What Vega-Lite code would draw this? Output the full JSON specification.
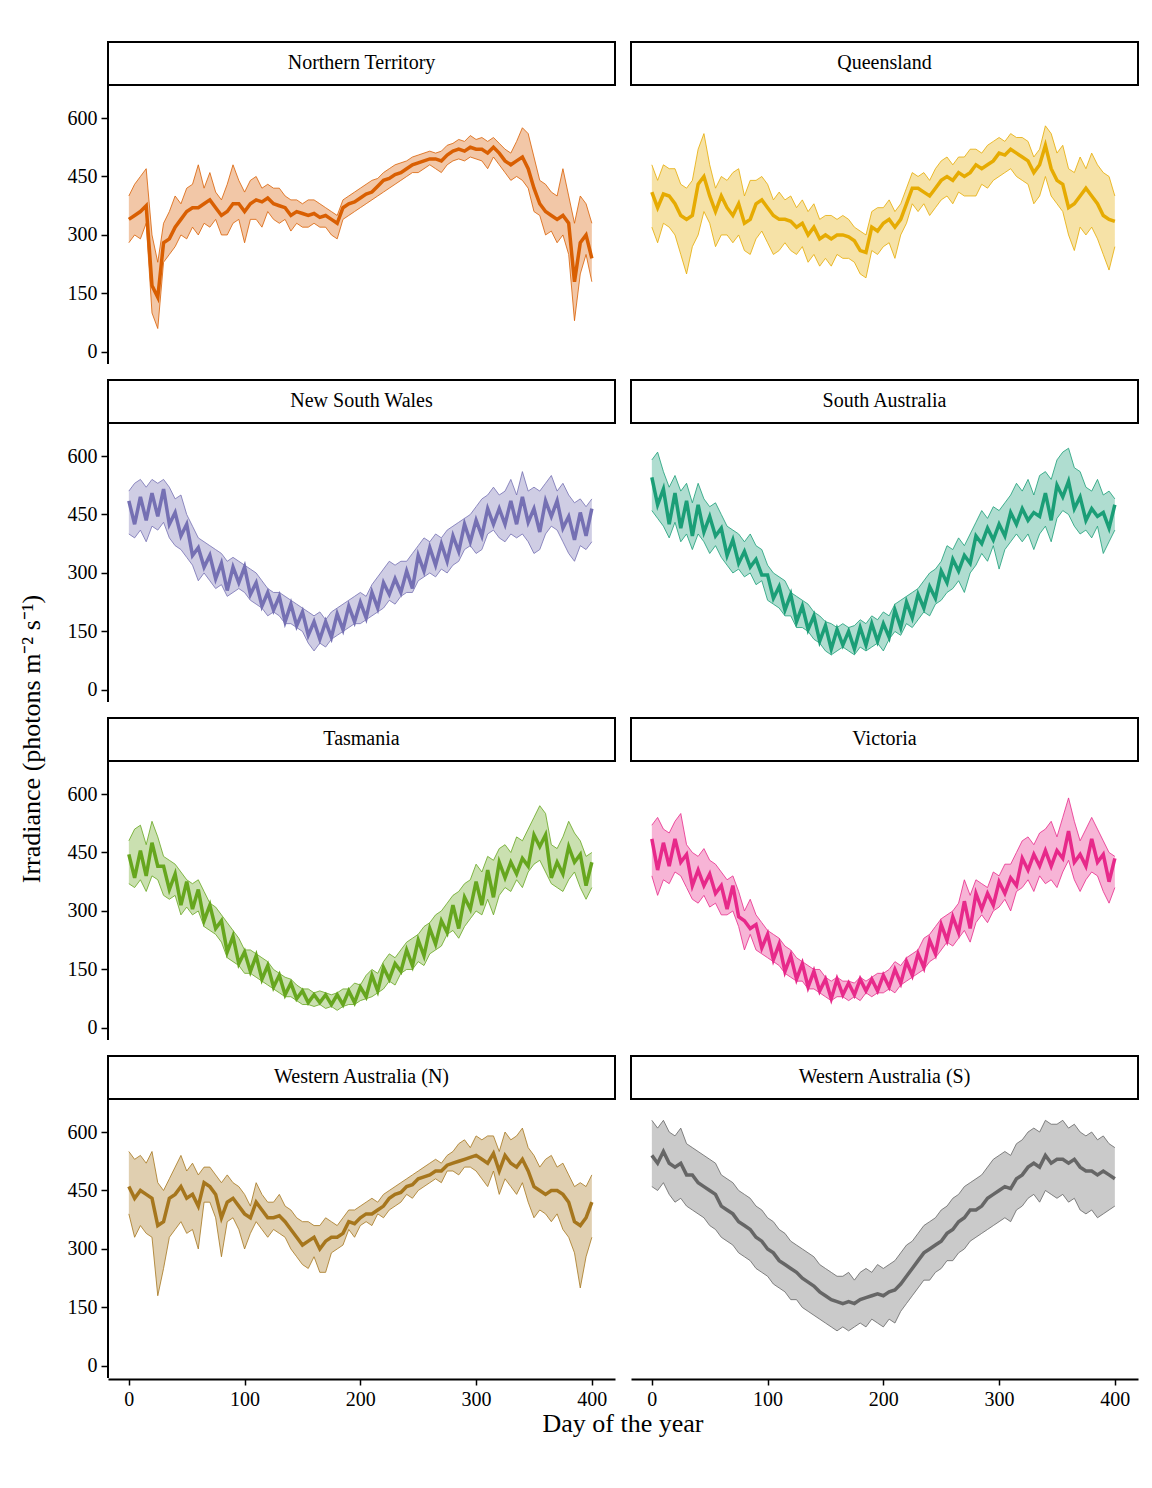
{
  "$schema": "https://vega.github.io/schema/vega-lite/v6.json",
  "background": "white",
  "padding": {"left": 18, "top": 41, "right": 10, "bottom": 10},
  "title": {
    "text": "Irradiance (photons m⁻² s⁻¹)",
    "orient": "left",
    "anchor": "middle",
    "font": "Liberation Serif",
    "fontSize": 26,
    "fontWeight": "normal",
    "color": "black",
    "offset": 22
  },
  "config": {
    "view": {"stroke": null},
    "font": "Liberation Serif",
    "header": {"labels": false, "labelFontSize": 0, "labelPadding": 0, "labelExpr": "''"},
    "axis": {
      "grid": false,
      "labelFont": "Liberation Serif",
      "labelFontSize": 20,
      "labelColor": "black",
      "tickColor": "black",
      "tickWidth": 1.5,
      "tickSize": 6,
      "domainColor": "black",
      "domainWidth": 2,
      "labelPadding": 4
    }
  },
  "datasets": {
    "names": [
      {"r": "NT", "region": "Northern Territory"},
      {"r": "QLD", "region": "Queensland"},
      {"r": "NSW", "region": "New South Wales"},
      {"r": "SA", "region": "South Australia"},
      {"r": "TAS", "region": "Tasmania"},
      {"r": "VIC", "region": "Victoria"},
      {"r": "WAN", "region": "Western Australia (N)"},
      {"r": "WAS", "region": "Western Australia (S)"}
    ]
  },
  "data": {
    "values": [
      {"r":"NT","d":0,"lo":280,"m":340,"hi":400},{"r":"NT","d":5,"lo":300,"m":350,"hi":430},{"r":"NT","d":10,"lo":290,"m":360,"hi":450},{"r":"NT","d":15,"lo":330,"m":375,"hi":470},{"r":"NT","d":20,"lo":100,"m":170,"hi":300},{"r":"NT","d":25,"lo":60,"m":140,"hi":230},{"r":"NT","d":30,"lo":230,"m":280,"hi":330},{"r":"NT","d":35,"lo":250,"m":290,"hi":360},{"r":"NT","d":40,"lo":270,"m":320,"hi":400},{"r":"NT","d":45,"lo":300,"m":340,"hi":380},
      {"r":"NT","d":50,"lo":290,"m":360,"hi":420},{"r":"NT","d":55,"lo":320,"m":370,"hi":430},{"r":"NT","d":60,"lo":300,"m":370,"hi":480},{"r":"NT","d":65,"lo":330,"m":380,"hi":420},{"r":"NT","d":70,"lo":320,"m":390,"hi":460},{"r":"NT","d":75,"lo":340,"m":370,"hi":410},{"r":"NT","d":80,"lo":300,"m":350,"hi":390},{"r":"NT","d":85,"lo":300,"m":360,"hi":430},{"r":"NT","d":90,"lo":330,"m":380,"hi":480},{"r":"NT","d":95,"lo":340,"m":380,"hi":440},
      {"r":"NT","d":100,"lo":280,"m":360,"hi":410},{"r":"NT","d":105,"lo":340,"m":380,"hi":440},{"r":"NT","d":110,"lo":340,"m":390,"hi":450},{"r":"NT","d":115,"lo":320,"m":385,"hi":420},{"r":"NT","d":120,"lo":360,"m":395,"hi":430},{"r":"NT","d":125,"lo":340,"m":380,"hi":420},{"r":"NT","d":130,"lo":330,"m":375,"hi":420},{"r":"NT","d":135,"lo":340,"m":370,"hi":400},{"r":"NT","d":140,"lo":310,"m":350,"hi":390},{"r":"NT","d":145,"lo":330,"m":360,"hi":390},
      {"r":"NT","d":150,"lo":320,"m":355,"hi":380},{"r":"NT","d":155,"lo":320,"m":350,"hi":390},{"r":"NT","d":160,"lo":330,"m":355,"hi":390},{"r":"NT","d":165,"lo":320,"m":345,"hi":380},{"r":"NT","d":170,"lo":320,"m":350,"hi":370},{"r":"NT","d":175,"lo":300,"m":340,"hi":360},{"r":"NT","d":180,"lo":290,"m":330,"hi":350},{"r":"NT","d":185,"lo":340,"m":370,"hi":390},{"r":"NT","d":190,"lo":350,"m":380,"hi":400},{"r":"NT","d":195,"lo":360,"m":385,"hi":410},
      {"r":"NT","d":200,"lo":370,"m":395,"hi":420},{"r":"NT","d":205,"lo":380,"m":405,"hi":430},{"r":"NT","d":210,"lo":390,"m":410,"hi":440},{"r":"NT","d":215,"lo":400,"m":425,"hi":445},{"r":"NT","d":220,"lo":410,"m":440,"hi":460},{"r":"NT","d":225,"lo":420,"m":445,"hi":470},{"r":"NT","d":230,"lo":430,"m":455,"hi":480},{"r":"NT","d":235,"lo":440,"m":460,"hi":485},{"r":"NT","d":240,"lo":450,"m":470,"hi":490},{"r":"NT","d":245,"lo":460,"m":480,"hi":500},
      {"r":"NT","d":250,"lo":460,"m":485,"hi":505},{"r":"NT","d":255,"lo":470,"m":490,"hi":510},{"r":"NT","d":260,"lo":480,"m":495,"hi":515},{"r":"NT","d":265,"lo":470,"m":495,"hi":510},{"r":"NT","d":270,"lo":460,"m":490,"hi":515},{"r":"NT","d":275,"lo":480,"m":505,"hi":530},{"r":"NT","d":280,"lo":490,"m":515,"hi":535},{"r":"NT","d":285,"lo":495,"m":520,"hi":545},{"r":"NT","d":290,"lo":490,"m":515,"hi":540},{"r":"NT","d":295,"lo":500,"m":525,"hi":555},
      {"r":"NT","d":300,"lo":495,"m":520,"hi":545},{"r":"NT","d":305,"lo":490,"m":520,"hi":550},{"r":"NT","d":310,"lo":470,"m":510,"hi":540},{"r":"NT","d":315,"lo":500,"m":525,"hi":550},{"r":"NT","d":320,"lo":480,"m":510,"hi":535},{"r":"NT","d":325,"lo":460,"m":490,"hi":520},{"r":"NT","d":330,"lo":440,"m":480,"hi":510},{"r":"NT","d":335,"lo":450,"m":490,"hi":540},{"r":"NT","d":340,"lo":440,"m":500,"hi":575},{"r":"NT","d":345,"lo":420,"m":470,"hi":560},
      {"r":"NT","d":350,"lo":360,"m":420,"hi":500},{"r":"NT","d":355,"lo":350,"m":380,"hi":440},{"r":"NT","d":360,"lo":300,"m":360,"hi":430},{"r":"NT","d":365,"lo":310,"m":350,"hi":410},{"r":"NT","d":370,"lo":280,"m":340,"hi":400},{"r":"NT","d":375,"lo":300,"m":350,"hi":470},{"r":"NT","d":380,"lo":250,"m":330,"hi":400},{"r":"NT","d":385,"lo":80,"m":180,"hi":330},{"r":"NT","d":390,"lo":200,"m":280,"hi":400},{"r":"NT","d":395,"lo":250,"m":300,"hi":380},{"r":"NT","d":400,"lo":180,"m":240,"hi":330},

      {"r":"QLD","d":0,"lo":320,"m":410,"hi":480},{"r":"QLD","d":5,"lo":280,"m":370,"hi":440},{"r":"QLD","d":10,"lo":330,"m":405,"hi":480},{"r":"QLD","d":15,"lo":320,"m":400,"hi":470},{"r":"QLD","d":20,"lo":300,"m":380,"hi":470},{"r":"QLD","d":25,"lo":250,"m":350,"hi":430},{"r":"QLD","d":30,"lo":200,"m":340,"hi":420},{"r":"QLD","d":35,"lo":270,"m":350,"hi":440},{"r":"QLD","d":40,"lo":300,"m":430,"hi":520},{"r":"QLD","d":45,"lo":360,"m":450,"hi":560},
      {"r":"QLD","d":50,"lo":330,"m":400,"hi":480},{"r":"QLD","d":55,"lo":270,"m":360,"hi":420},{"r":"QLD","d":60,"lo":300,"m":400,"hi":450},{"r":"QLD","d":65,"lo":300,"m":370,"hi":440},{"r":"QLD","d":70,"lo":280,"m":350,"hi":460},{"r":"QLD","d":75,"lo":300,"m":380,"hi":470},{"r":"QLD","d":80,"lo":260,"m":330,"hi":400},{"r":"QLD","d":85,"lo":250,"m":340,"hi":440},{"r":"QLD","d":90,"lo":290,"m":380,"hi":440},{"r":"QLD","d":95,"lo":310,"m":390,"hi":450},
      {"r":"QLD","d":100,"lo":280,"m":370,"hi":430},{"r":"QLD","d":105,"lo":250,"m":350,"hi":390},{"r":"QLD","d":110,"lo":260,"m":340,"hi":410},{"r":"QLD","d":115,"lo":280,"m":340,"hi":390},{"r":"QLD","d":120,"lo":260,"m":335,"hi":400},{"r":"QLD","d":125,"lo":250,"m":320,"hi":370},{"r":"QLD","d":130,"lo":270,"m":330,"hi":390},{"r":"QLD","d":135,"lo":230,"m":300,"hi":360},{"r":"QLD","d":140,"lo":250,"m":320,"hi":380},{"r":"QLD","d":145,"lo":220,"m":290,"hi":340},
      {"r":"QLD","d":150,"lo":240,"m":300,"hi":350},{"r":"QLD","d":155,"lo":220,"m":290,"hi":350},{"r":"QLD","d":160,"lo":250,"m":300,"hi":340},{"r":"QLD","d":165,"lo":240,"m":300,"hi":350},{"r":"QLD","d":170,"lo":240,"m":295,"hi":340},{"r":"QLD","d":175,"lo":230,"m":285,"hi":320},{"r":"QLD","d":180,"lo":200,"m":260,"hi":310},{"r":"QLD","d":185,"lo":190,"m":255,"hi":300},{"r":"QLD","d":190,"lo":260,"m":320,"hi":360},{"r":"QLD","d":195,"lo":250,"m":310,"hi":370},
      {"r":"QLD","d":200,"lo":270,"m":330,"hi":370},{"r":"QLD","d":205,"lo":280,"m":340,"hi":390},{"r":"QLD","d":210,"lo":240,"m":320,"hi":360},{"r":"QLD","d":215,"lo":300,"m":340,"hi":380},{"r":"QLD","d":220,"lo":330,"m":380,"hi":420},{"r":"QLD","d":225,"lo":380,"m":420,"hi":460},{"r":"QLD","d":230,"lo":360,"m":420,"hi":450},{"r":"QLD","d":235,"lo":380,"m":410,"hi":460},{"r":"QLD","d":240,"lo":350,"m":400,"hi":440},{"r":"QLD","d":245,"lo":370,"m":420,"hi":470},
      {"r":"QLD","d":250,"lo":390,"m":440,"hi":490},{"r":"QLD","d":255,"lo":400,"m":450,"hi":500},{"r":"QLD","d":260,"lo":380,"m":440,"hi":480},{"r":"QLD","d":265,"lo":410,"m":460,"hi":500},{"r":"QLD","d":270,"lo":400,"m":450,"hi":500},{"r":"QLD","d":275,"lo":400,"m":460,"hi":520},{"r":"QLD","d":280,"lo":400,"m":480,"hi":520},{"r":"QLD","d":285,"lo":430,"m":470,"hi":510},{"r":"QLD","d":290,"lo":420,"m":480,"hi":530},{"r":"QLD","d":295,"lo":440,"m":490,"hi":540},
      {"r":"QLD","d":300,"lo":450,"m":510,"hi":550},{"r":"QLD","d":305,"lo":460,"m":505,"hi":540},{"r":"QLD","d":310,"lo":470,"m":520,"hi":560},{"r":"QLD","d":315,"lo":450,"m":510,"hi":550},{"r":"QLD","d":320,"lo":440,"m":500,"hi":550},{"r":"QLD","d":325,"lo":430,"m":490,"hi":540},{"r":"QLD","d":330,"lo":380,"m":460,"hi":500},{"r":"QLD","d":335,"lo":400,"m":480,"hi":520},{"r":"QLD","d":340,"lo":450,"m":530,"hi":580},{"r":"QLD","d":345,"lo":400,"m":470,"hi":560},
      {"r":"QLD","d":350,"lo":380,"m":440,"hi":510},{"r":"QLD","d":355,"lo":360,"m":430,"hi":530},{"r":"QLD","d":360,"lo":300,"m":370,"hi":470},{"r":"QLD","d":365,"lo":260,"m":380,"hi":460},{"r":"QLD","d":370,"lo":320,"m":400,"hi":500},{"r":"QLD","d":375,"lo":300,"m":420,"hi":470},{"r":"QLD","d":380,"lo":320,"m":400,"hi":510},{"r":"QLD","d":385,"lo":290,"m":380,"hi":480},{"r":"QLD","d":390,"lo":250,"m":350,"hi":460},{"r":"QLD","d":395,"lo":210,"m":340,"hi":450},{"r":"QLD","d":400,"lo":270,"m":335,"hi":400},

      {"r":"NSW","d":0,"lo":400,"m":485,"hi":510},{"r":"NSW","d":5,"lo":390,"m":425,"hi":530},{"r":"NSW","d":10,"lo":410,"m":495,"hi":540},{"r":"NSW","d":15,"lo":380,"m":435,"hi":520},{"r":"NSW","d":20,"lo":420,"m":505,"hi":540},{"r":"NSW","d":25,"lo":410,"m":445,"hi":530},{"r":"NSW","d":30,"lo":430,"m":515,"hi":540},{"r":"NSW","d":35,"lo":390,"m":425,"hi":520},{"r":"NSW","d":40,"lo":370,"m":455,"hi":490},{"r":"NSW","d":45,"lo":360,"m":395,"hi":500},
      {"r":"NSW","d":50,"lo":340,"m":425,"hi":450},{"r":"NSW","d":55,"lo":320,"m":345,"hi":420},{"r":"NSW","d":60,"lo":280,"m":365,"hi":390},{"r":"NSW","d":65,"lo":300,"m":315,"hi":380},{"r":"NSW","d":70,"lo":280,"m":345,"hi":370},{"r":"NSW","d":75,"lo":260,"m":285,"hi":360},{"r":"NSW","d":80,"lo":270,"m":325,"hi":350},{"r":"NSW","d":85,"lo":240,"m":255,"hi":330},{"r":"NSW","d":90,"lo":250,"m":315,"hi":340},{"r":"NSW","d":95,"lo":260,"m":275,"hi":330},
      {"r":"NSW","d":100,"lo":250,"m":315,"hi":320},{"r":"NSW","d":105,"lo":230,"m":245,"hi":310},{"r":"NSW","d":110,"lo":220,"m":275,"hi":300},{"r":"NSW","d":115,"lo":210,"m":215,"hi":280},{"r":"NSW","d":120,"lo":190,"m":250,"hi":260},{"r":"NSW","d":125,"lo":200,"m":205,"hi":250},{"r":"NSW","d":130,"lo":190,"m":240,"hi":250},{"r":"NSW","d":135,"lo":170,"m":175,"hi":240},{"r":"NSW","d":140,"lo":170,"m":220,"hi":230},{"r":"NSW","d":145,"lo":160,"m":165,"hi":220},
      {"r":"NSW","d":150,"lo":150,"m":200,"hi":210},{"r":"NSW","d":155,"lo":120,"m":140,"hi":200},{"r":"NSW","d":160,"lo":100,"m":175,"hi":190},{"r":"NSW","d":165,"lo":120,"m":130,"hi":200},{"r":"NSW","d":170,"lo":110,"m":175,"hi":180},{"r":"NSW","d":175,"lo":130,"m":135,"hi":200},{"r":"NSW","d":180,"lo":140,"m":195,"hi":210},{"r":"NSW","d":185,"lo":150,"m":155,"hi":220},{"r":"NSW","d":190,"lo":160,"m":215,"hi":230},{"r":"NSW","d":195,"lo":170,"m":175,"hi":240},
      {"r":"NSW","d":200,"lo":170,"m":225,"hi":250},{"r":"NSW","d":205,"lo":180,"m":185,"hi":240},{"r":"NSW","d":210,"lo":190,"m":250,"hi":270},{"r":"NSW","d":215,"lo":200,"m":210,"hi":290},{"r":"NSW","d":220,"lo":210,"m":275,"hi":310},{"r":"NSW","d":225,"lo":230,"m":245,"hi":330},{"r":"NSW","d":230,"lo":220,"m":285,"hi":320},{"r":"NSW","d":235,"lo":240,"m":250,"hi":330},{"r":"NSW","d":240,"lo":250,"m":305,"hi":330},{"r":"NSW","d":245,"lo":250,"m":260,"hi":350},
      {"r":"NSW","d":250,"lo":280,"m":345,"hi":370},{"r":"NSW","d":255,"lo":290,"m":305,"hi":390},{"r":"NSW","d":260,"lo":300,"m":365,"hi":380},{"r":"NSW","d":265,"lo":290,"m":320,"hi":400},{"r":"NSW","d":270,"lo":310,"m":375,"hi":390},{"r":"NSW","d":275,"lo":300,"m":330,"hi":410},{"r":"NSW","d":280,"lo":320,"m":395,"hi":420},{"r":"NSW","d":285,"lo":330,"m":355,"hi":430},{"r":"NSW","d":290,"lo":360,"m":425,"hi":440},{"r":"NSW","d":295,"lo":370,"m":380,"hi":450},
      {"r":"NSW","d":300,"lo":350,"m":435,"hi":470},{"r":"NSW","d":305,"lo":360,"m":395,"hi":490},{"r":"NSW","d":310,"lo":400,"m":465,"hi":500},{"r":"NSW","d":315,"lo":410,"m":425,"hi":520},{"r":"NSW","d":320,"lo":390,"m":465,"hi":500},{"r":"NSW","d":325,"lo":380,"m":425,"hi":510},{"r":"NSW","d":330,"lo":400,"m":485,"hi":540},{"r":"NSW","d":335,"lo":390,"m":425,"hi":500},{"r":"NSW","d":340,"lo":400,"m":495,"hi":560},{"r":"NSW","d":345,"lo":380,"m":430,"hi":510},
      {"r":"NSW","d":350,"lo":350,"m":465,"hi":520},{"r":"NSW","d":355,"lo":360,"m":405,"hi":510},{"r":"NSW","d":360,"lo":400,"m":485,"hi":530},{"r":"NSW","d":365,"lo":420,"m":445,"hi":550},{"r":"NSW","d":370,"lo":410,"m":485,"hi":510},{"r":"NSW","d":375,"lo":380,"m":415,"hi":530},{"r":"NSW","d":380,"lo":350,"m":445,"hi":500},{"r":"NSW","d":385,"lo":330,"m":385,"hi":480},{"r":"NSW","d":390,"lo":370,"m":455,"hi":490},{"r":"NSW","d":395,"lo":360,"m":395,"hi":470},{"r":"NSW","d":400,"lo":380,"m":465,"hi":490},

      {"r":"SA","d":0,"lo":460,"m":545,"hi":590},{"r":"SA","d":5,"lo":440,"m":475,"hi":610},{"r":"SA","d":10,"lo":420,"m":515,"hi":560},{"r":"SA","d":15,"lo":390,"m":425,"hi":520},{"r":"SA","d":20,"lo":430,"m":505,"hi":550},{"r":"SA","d":25,"lo":380,"m":415,"hi":510},{"r":"SA","d":30,"lo":400,"m":485,"hi":530},{"r":"SA","d":35,"lo":360,"m":395,"hi":480},{"r":"SA","d":40,"lo":400,"m":475,"hi":530},{"r":"SA","d":45,"lo":380,"m":405,"hi":490},
      {"r":"SA","d":50,"lo":350,"m":445,"hi":470},{"r":"SA","d":55,"lo":370,"m":395,"hi":480},{"r":"SA","d":60,"lo":340,"m":415,"hi":450},{"r":"SA","d":65,"lo":320,"m":345,"hi":420},{"r":"SA","d":70,"lo":300,"m":385,"hi":410},{"r":"SA","d":75,"lo":310,"m":325,"hi":400},{"r":"SA","d":80,"lo":290,"m":355,"hi":380},{"r":"SA","d":85,"lo":300,"m":315,"hi":400},{"r":"SA","d":90,"lo":270,"m":335,"hi":370},{"r":"SA","d":95,"lo":280,"m":295,"hi":360},
      {"r":"SA","d":100,"lo":230,"m":295,"hi":320},{"r":"SA","d":105,"lo":220,"m":235,"hi":300},{"r":"SA","d":110,"lo":210,"m":265,"hi":290},{"r":"SA","d":115,"lo":190,"m":205,"hi":280},{"r":"SA","d":120,"lo":190,"m":245,"hi":250},{"r":"SA","d":125,"lo":160,"m":175,"hi":240},{"r":"SA","d":130,"lo":160,"m":215,"hi":230},{"r":"SA","d":135,"lo":150,"m":155,"hi":220},{"r":"SA","d":140,"lo":130,"m":190,"hi":200},{"r":"SA","d":145,"lo":120,"m":125,"hi":190},
      {"r":"SA","d":150,"lo":100,"m":165,"hi":175},{"r":"SA","d":155,"lo":90,"m":105,"hi":170},{"r":"SA","d":160,"lo":100,"m":155,"hi":160},{"r":"SA","d":165,"lo":110,"m":115,"hi":170},{"r":"SA","d":170,"lo":100,"m":150,"hi":160},{"r":"SA","d":175,"lo":90,"m":105,"hi":165},{"r":"SA","d":180,"lo":110,"m":160,"hi":180},{"r":"SA","d":185,"lo":100,"m":115,"hi":170},{"r":"SA","d":190,"lo":110,"m":170,"hi":190},{"r":"SA","d":195,"lo":120,"m":125,"hi":180},
      {"r":"SA","d":200,"lo":100,"m":170,"hi":200},{"r":"SA","d":205,"lo":130,"m":135,"hi":190},{"r":"SA","d":210,"lo":150,"m":205,"hi":220},{"r":"SA","d":215,"lo":140,"m":160,"hi":230},{"r":"SA","d":220,"lo":170,"m":225,"hi":240},{"r":"SA","d":225,"lo":160,"m":185,"hi":250},{"r":"SA","d":230,"lo":180,"m":245,"hi":260},{"r":"SA","d":235,"lo":200,"m":210,"hi":280},{"r":"SA","d":240,"lo":190,"m":265,"hi":300},{"r":"SA","d":245,"lo":220,"m":235,"hi":310},
      {"r":"SA","d":250,"lo":230,"m":305,"hi":330},{"r":"SA","d":255,"lo":250,"m":275,"hi":370},{"r":"SA","d":260,"lo":260,"m":335,"hi":360},{"r":"SA","d":265,"lo":280,"m":305,"hi":390},{"r":"SA","d":270,"lo":250,"m":345,"hi":370},{"r":"SA","d":275,"lo":300,"m":325,"hi":400},{"r":"SA","d":280,"lo":320,"m":395,"hi":430},{"r":"SA","d":285,"lo":350,"m":375,"hi":460},{"r":"SA","d":290,"lo":330,"m":415,"hi":440},{"r":"SA","d":295,"lo":370,"m":385,"hi":470},
      {"r":"SA","d":300,"lo":310,"m":425,"hi":460},{"r":"SA","d":305,"lo":360,"m":395,"hi":480},{"r":"SA","d":310,"lo":380,"m":455,"hi":500},{"r":"SA","d":315,"lo":400,"m":425,"hi":530},{"r":"SA","d":320,"lo":380,"m":465,"hi":510},{"r":"SA","d":325,"lo":400,"m":435,"hi":540},{"r":"SA","d":330,"lo":360,"m":455,"hi":500},{"r":"SA","d":335,"lo":400,"m":445,"hi":550},{"r":"SA","d":340,"lo":420,"m":505,"hi":560},{"r":"SA","d":345,"lo":380,"m":435,"hi":540},
      {"r":"SA","d":350,"lo":440,"m":525,"hi":590},{"r":"SA","d":355,"lo":460,"m":495,"hi":610},{"r":"SA","d":360,"lo":450,"m":535,"hi":620},{"r":"SA","d":365,"lo":420,"m":465,"hi":570},{"r":"SA","d":370,"lo":400,"m":495,"hi":560},{"r":"SA","d":375,"lo":410,"m":435,"hi":520},{"r":"SA","d":380,"lo":390,"m":465,"hi":510},{"r":"SA","d":385,"lo":420,"m":445,"hi":540},{"r":"SA","d":390,"lo":350,"m":455,"hi":500},{"r":"SA","d":395,"lo":380,"m":415,"hi":510},{"r":"SA","d":400,"lo":410,"m":475,"hi":490},

      {"r":"TAS","d":0,"lo":370,"m":445,"hi":480},{"r":"TAS","d":5,"lo":360,"m":385,"hi":510},{"r":"TAS","d":10,"lo":380,"m":455,"hi":520},{"r":"TAS","d":15,"lo":350,"m":390,"hi":470},{"r":"TAS","d":20,"lo":390,"m":475,"hi":530},{"r":"TAS","d":25,"lo":380,"m":415,"hi":490},{"r":"TAS","d":30,"lo":340,"m":415,"hi":440},{"r":"TAS","d":35,"lo":330,"m":355,"hi":430},{"r":"TAS","d":40,"lo":340,"m":395,"hi":420},{"r":"TAS","d":45,"lo":290,"m":315,"hi":400},
      {"r":"TAS","d":50,"lo":310,"m":375,"hi":380},{"r":"TAS","d":55,"lo":290,"m":305,"hi":370},{"r":"TAS","d":60,"lo":300,"m":355,"hi":380},{"r":"TAS","d":65,"lo":260,"m":275,"hi":350},{"r":"TAS","d":70,"lo":250,"m":315,"hi":320},{"r":"TAS","d":75,"lo":240,"m":255,"hi":310},{"r":"TAS","d":80,"lo":220,"m":275,"hi":290},{"r":"TAS","d":85,"lo":180,"m":195,"hi":270},{"r":"TAS","d":90,"lo":170,"m":235,"hi":250},{"r":"TAS","d":95,"lo":160,"m":165,"hi":230},
      {"r":"TAS","d":100,"lo":140,"m":195,"hi":200},{"r":"TAS","d":105,"lo":140,"m":145,"hi":200},{"r":"TAS","d":110,"lo":130,"m":185,"hi":190},{"r":"TAS","d":115,"lo":120,"m":125,"hi":180},{"r":"TAS","d":120,"lo":110,"m":160,"hi":170},{"r":"TAS","d":125,"lo":100,"m":105,"hi":150},{"r":"TAS","d":130,"lo":90,"m":135,"hi":140},{"r":"TAS","d":135,"lo":80,"m":85,"hi":130},{"r":"TAS","d":140,"lo":80,"m":115,"hi":125},{"r":"TAS","d":145,"lo":70,"m":75,"hi":110},
      {"r":"TAS","d":150,"lo":60,"m":95,"hi":100},{"r":"TAS","d":155,"lo":60,"m":65,"hi":100},{"r":"TAS","d":160,"lo":55,"m":85,"hi":90},{"r":"TAS","d":165,"lo":60,"m":65,"hi":95},{"r":"TAS","d":170,"lo":50,"m":85,"hi":90},{"r":"TAS","d":175,"lo":55,"m":60,"hi":85},{"r":"TAS","d":180,"lo":45,"m":85,"hi":90},{"r":"TAS","d":185,"lo":55,"m":60,"hi":100},{"r":"TAS","d":190,"lo":60,"m":95,"hi":100},{"r":"TAS","d":195,"lo":60,"m":65,"hi":115},
      {"r":"TAS","d":200,"lo":70,"m":105,"hi":110},{"r":"TAS","d":205,"lo":75,"m":80,"hi":135},{"r":"TAS","d":210,"lo":80,"m":135,"hi":150},{"r":"TAS","d":215,"lo":90,"m":95,"hi":140},{"r":"TAS","d":220,"lo":100,"m":155,"hi":170},{"r":"TAS","d":225,"lo":120,"m":125,"hi":190},{"r":"TAS","d":230,"lo":110,"m":165,"hi":180},{"r":"TAS","d":235,"lo":140,"m":145,"hi":200},{"r":"TAS","d":240,"lo":150,"m":200,"hi":220},{"r":"TAS","d":245,"lo":150,"m":160,"hi":230},
      {"r":"TAS","d":250,"lo":170,"m":225,"hi":240},{"r":"TAS","d":255,"lo":160,"m":185,"hi":260},{"r":"TAS","d":260,"lo":190,"m":255,"hi":270},{"r":"TAS","d":265,"lo":200,"m":215,"hi":290},{"r":"TAS","d":270,"lo":210,"m":275,"hi":300},{"r":"TAS","d":275,"lo":240,"m":245,"hi":320},{"r":"TAS","d":280,"lo":250,"m":315,"hi":340},{"r":"TAS","d":285,"lo":230,"m":255,"hi":350},{"r":"TAS","d":290,"lo":260,"m":335,"hi":370},{"r":"TAS","d":295,"lo":280,"m":305,"hi":380},
      {"r":"TAS","d":300,"lo":300,"m":375,"hi":420},{"r":"TAS","d":305,"lo":290,"m":315,"hi":400},{"r":"TAS","d":310,"lo":330,"m":405,"hi":440},{"r":"TAS","d":315,"lo":290,"m":335,"hi":430},{"r":"TAS","d":320,"lo":340,"m":425,"hi":460},{"r":"TAS","d":325,"lo":360,"m":385,"hi":470},{"r":"TAS","d":330,"lo":350,"m":425,"hi":450},{"r":"TAS","d":335,"lo":380,"m":395,"hi":490},{"r":"TAS","d":340,"lo":360,"m":435,"hi":480},{"r":"TAS","d":345,"lo":400,"m":415,"hi":510},
      {"r":"TAS","d":350,"lo":420,"m":495,"hi":540},{"r":"TAS","d":355,"lo":430,"m":465,"hi":570},{"r":"TAS","d":360,"lo":400,"m":495,"hi":550},{"r":"TAS","d":365,"lo":370,"m":385,"hi":470},{"r":"TAS","d":370,"lo":360,"m":425,"hi":460},{"r":"TAS","d":375,"lo":350,"m":395,"hi":490},{"r":"TAS","d":380,"lo":380,"m":465,"hi":530},{"r":"TAS","d":385,"lo":400,"m":425,"hi":500},{"r":"TAS","d":390,"lo":360,"m":445,"hi":480},{"r":"TAS","d":395,"lo":330,"m":365,"hi":440},{"r":"TAS","d":400,"lo":360,"m":425,"hi":450},

      {"r":"VIC","d":0,"lo":390,"m":485,"hi":520},{"r":"VIC","d":5,"lo":340,"m":405,"hi":540},{"r":"VIC","d":10,"lo":380,"m":475,"hi":510},{"r":"VIC","d":15,"lo":370,"m":415,"hi":500},{"r":"VIC","d":20,"lo":400,"m":485,"hi":530},{"r":"VIC","d":25,"lo":390,"m":425,"hi":550},{"r":"VIC","d":30,"lo":360,"m":445,"hi":470},{"r":"VIC","d":35,"lo":330,"m":365,"hi":450},{"r":"VIC","d":40,"lo":320,"m":405,"hi":440},{"r":"VIC","d":45,"lo":340,"m":365,"hi":460},
      {"r":"VIC","d":50,"lo":310,"m":395,"hi":430},{"r":"VIC","d":55,"lo":320,"m":345,"hi":420},{"r":"VIC","d":60,"lo":290,"m":365,"hi":400},{"r":"VIC","d":65,"lo":290,"m":305,"hi":380},{"r":"VIC","d":70,"lo":300,"m":365,"hi":390},{"r":"VIC","d":75,"lo":260,"m":285,"hi":350},{"r":"VIC","d":80,"lo":200,"m":275,"hi":300},{"r":"VIC","d":85,"lo":240,"m":255,"hi":330},{"r":"VIC","d":90,"lo":200,"m":265,"hi":290},{"r":"VIC","d":95,"lo":190,"m":205,"hi":270},
      {"r":"VIC","d":100,"lo":180,"m":240,"hi":250},{"r":"VIC","d":105,"lo":170,"m":175,"hi":240},{"r":"VIC","d":110,"lo":160,"m":215,"hi":230},{"r":"VIC","d":115,"lo":140,"m":145,"hi":210},{"r":"VIC","d":120,"lo":130,"m":185,"hi":200},{"r":"VIC","d":125,"lo":120,"m":125,"hi":180},{"r":"VIC","d":130,"lo":120,"m":165,"hi":170},{"r":"VIC","d":135,"lo":100,"m":105,"hi":160},{"r":"VIC","d":140,"lo":100,"m":145,"hi":150},{"r":"VIC","d":145,"lo":90,"m":95,"hi":150},
      {"r":"VIC","d":150,"lo":80,"m":125,"hi":130},{"r":"VIC","d":155,"lo":70,"m":75,"hi":120},{"r":"VIC","d":160,"lo":80,"m":125,"hi":130},{"r":"VIC","d":165,"lo":80,"m":85,"hi":120},{"r":"VIC","d":170,"lo":70,"m":115,"hi":120},{"r":"VIC","d":175,"lo":80,"m":85,"hi":115},{"r":"VIC","d":180,"lo":70,"m":125,"hi":130},{"r":"VIC","d":185,"lo":90,"m":95,"hi":120},{"r":"VIC","d":190,"lo":80,"m":125,"hi":130},{"r":"VIC","d":195,"lo":90,"m":95,"hi":140},
      {"r":"VIC","d":200,"lo":90,"m":135,"hi":140},{"r":"VIC","d":205,"lo":100,"m":105,"hi":150},{"r":"VIC","d":210,"lo":90,"m":150,"hi":170},{"r":"VIC","d":215,"lo":110,"m":115,"hi":160},{"r":"VIC","d":220,"lo":120,"m":170,"hi":180},{"r":"VIC","d":225,"lo":130,"m":135,"hi":190},{"r":"VIC","d":230,"lo":140,"m":190,"hi":200},{"r":"VIC","d":235,"lo":150,"m":155,"hi":230},{"r":"VIC","d":240,"lo":170,"m":225,"hi":240},{"r":"VIC","d":245,"lo":180,"m":190,"hi":260},
      {"r":"VIC","d":250,"lo":200,"m":265,"hi":280},{"r":"VIC","d":255,"lo":220,"m":225,"hi":290},{"r":"VIC","d":260,"lo":210,"m":285,"hi":300},{"r":"VIC","d":265,"lo":230,"m":245,"hi":320},{"r":"VIC","d":270,"lo":250,"m":325,"hi":380},{"r":"VIC","d":275,"lo":220,"m":255,"hi":340},{"r":"VIC","d":280,"lo":270,"m":345,"hi":380},{"r":"VIC","d":285,"lo":290,"m":305,"hi":370},{"r":"VIC","d":290,"lo":270,"m":345,"hi":360},{"r":"VIC","d":295,"lo":300,"m":315,"hi":400},
      {"r":"VIC","d":300,"lo":310,"m":375,"hi":390},{"r":"VIC","d":305,"lo":330,"m":345,"hi":420},{"r":"VIC","d":310,"lo":300,"m":385,"hi":420},{"r":"VIC","d":315,"lo":350,"m":365,"hi":450},{"r":"VIC","d":320,"lo":360,"m":435,"hi":480},{"r":"VIC","d":325,"lo":380,"m":405,"hi":490},{"r":"VIC","d":330,"lo":350,"m":445,"hi":470},{"r":"VIC","d":335,"lo":390,"m":415,"hi":500},{"r":"VIC","d":340,"lo":370,"m":455,"hi":510},{"r":"VIC","d":345,"lo":380,"m":415,"hi":530},
      {"r":"VIC","d":350,"lo":360,"m":455,"hi":490},{"r":"VIC","d":355,"lo":400,"m":435,"hi":540},{"r":"VIC","d":360,"lo":430,"m":505,"hi":590},{"r":"VIC","d":365,"lo":380,"m":425,"hi":530},{"r":"VIC","d":370,"lo":350,"m":445,"hi":480},{"r":"VIC","d":375,"lo":380,"m":415,"hi":510},{"r":"VIC","d":380,"lo":400,"m":485,"hi":540},{"r":"VIC","d":385,"lo":390,"m":425,"hi":510},{"r":"VIC","d":390,"lo":350,"m":445,"hi":480},{"r":"VIC","d":395,"lo":320,"m":375,"hi":450},{"r":"VIC","d":400,"lo":360,"m":435,"hi":440},

      {"r":"WAN","d":0,"lo":390,"m":460,"hi":550},{"r":"WAN","d":5,"lo":330,"m":430,"hi":530},{"r":"WAN","d":10,"lo":360,"m":450,"hi":540},{"r":"WAN","d":15,"lo":340,"m":440,"hi":520},{"r":"WAN","d":20,"lo":330,"m":430,"hi":550},{"r":"WAN","d":25,"lo":180,"m":360,"hi":470},{"r":"WAN","d":30,"lo":250,"m":370,"hi":450},{"r":"WAN","d":35,"lo":330,"m":430,"hi":480},{"r":"WAN","d":40,"lo":350,"m":440,"hi":510},{"r":"WAN","d":45,"lo":370,"m":460,"hi":540},
      {"r":"WAN","d":50,"lo":340,"m":430,"hi":500},{"r":"WAN","d":55,"lo":350,"m":440,"hi":520},{"r":"WAN","d":60,"lo":300,"m":410,"hi":490},{"r":"WAN","d":65,"lo":420,"m":470,"hi":510},{"r":"WAN","d":70,"lo":420,"m":460,"hi":510},{"r":"WAN","d":75,"lo":380,"m":440,"hi":490},{"r":"WAN","d":80,"lo":280,"m":380,"hi":470},{"r":"WAN","d":85,"lo":370,"m":420,"hi":490},{"r":"WAN","d":90,"lo":380,"m":430,"hi":470},{"r":"WAN","d":95,"lo":350,"m":410,"hi":460},
      {"r":"WAN","d":100,"lo":300,"m":390,"hi":440},{"r":"WAN","d":105,"lo":340,"m":380,"hi":410},{"r":"WAN","d":110,"lo":370,"m":420,"hi":470},{"r":"WAN","d":115,"lo":350,"m":400,"hi":440},{"r":"WAN","d":120,"lo":330,"m":380,"hi":420},{"r":"WAN","d":125,"lo":350,"m":380,"hi":420},{"r":"WAN","d":130,"lo":340,"m":385,"hi":440},{"r":"WAN","d":135,"lo":330,"m":370,"hi":410},{"r":"WAN","d":140,"lo":300,"m":350,"hi":400},{"r":"WAN","d":145,"lo":280,"m":330,"hi":380},
      {"r":"WAN","d":150,"lo":260,"m":310,"hi":370},{"r":"WAN","d":155,"lo":250,"m":320,"hi":370},{"r":"WAN","d":160,"lo":280,"m":330,"hi":360},{"r":"WAN","d":165,"lo":240,"m":300,"hi":360},{"r":"WAN","d":170,"lo":240,"m":320,"hi":380},{"r":"WAN","d":175,"lo":290,"m":330,"hi":370},{"r":"WAN","d":180,"lo":300,"m":330,"hi":360},{"r":"WAN","d":185,"lo":310,"m":340,"hi":380},{"r":"WAN","d":190,"lo":350,"m":370,"hi":400},{"r":"WAN","d":195,"lo":330,"m":365,"hi":400},
      {"r":"WAN","d":200,"lo":360,"m":380,"hi":410},{"r":"WAN","d":205,"lo":370,"m":390,"hi":420},{"r":"WAN","d":210,"lo":360,"m":390,"hi":430},{"r":"WAN","d":215,"lo":390,"m":400,"hi":420},{"r":"WAN","d":220,"lo":380,"m":410,"hi":440},{"r":"WAN","d":225,"lo":400,"m":430,"hi":450},{"r":"WAN","d":230,"lo":410,"m":440,"hi":460},{"r":"WAN","d":235,"lo":420,"m":445,"hi":470},{"r":"WAN","d":240,"lo":440,"m":460,"hi":480},{"r":"WAN","d":245,"lo":430,"m":465,"hi":490},
      {"r":"WAN","d":250,"lo":450,"m":480,"hi":500},{"r":"WAN","d":255,"lo":460,"m":485,"hi":510},{"r":"WAN","d":260,"lo":470,"m":490,"hi":520},{"r":"WAN","d":265,"lo":480,"m":500,"hi":530},{"r":"WAN","d":270,"lo":470,"m":500,"hi":520},{"r":"WAN","d":275,"lo":500,"m":515,"hi":540},{"r":"WAN","d":280,"lo":500,"m":520,"hi":550},{"r":"WAN","d":285,"lo":490,"m":525,"hi":570},{"r":"WAN","d":290,"lo":510,"m":530,"hi":580},{"r":"WAN","d":295,"lo":510,"m":535,"hi":560},
      {"r":"WAN","d":300,"lo":500,"m":540,"hi":590},{"r":"WAN","d":305,"lo":480,"m":530,"hi":580},{"r":"WAN","d":310,"lo":460,"m":520,"hi":590},{"r":"WAN","d":315,"lo":500,"m":545,"hi":590},{"r":"WAN","d":320,"lo":440,"m":500,"hi":550},{"r":"WAN","d":325,"lo":480,"m":540,"hi":600},{"r":"WAN","d":330,"lo":460,"m":520,"hi":580},{"r":"WAN","d":335,"lo":440,"m":510,"hi":590},{"r":"WAN","d":340,"lo":470,"m":530,"hi":610},{"r":"WAN","d":345,"lo":420,"m":500,"hi":560},
      {"r":"WAN","d":350,"lo":380,"m":460,"hi":540},{"r":"WAN","d":355,"lo":400,"m":450,"hi":510},{"r":"WAN","d":360,"lo":390,"m":440,"hi":530},{"r":"WAN","d":365,"lo":370,"m":450,"hi":540},{"r":"WAN","d":370,"lo":390,"m":450,"hi":510},{"r":"WAN","d":375,"lo":350,"m":440,"hi":520},{"r":"WAN","d":380,"lo":330,"m":420,"hi":490},{"r":"WAN","d":385,"lo":290,"m":370,"hi":460},{"r":"WAN","d":390,"lo":200,"m":360,"hi":470},{"r":"WAN","d":395,"lo":280,"m":380,"hi":460},{"r":"WAN","d":400,"lo":330,"m":420,"hi":490},

      {"r":"WAS","d":0,"lo":460,"m":540,"hi":630},{"r":"WAS","d":5,"lo":450,"m":520,"hi":610},{"r":"WAS","d":10,"lo":470,"m":550,"hi":630},{"r":"WAS","d":15,"lo":440,"m":520,"hi":600},{"r":"WAS","d":20,"lo":420,"m":510,"hi":590},{"r":"WAS","d":25,"lo":430,"m":520,"hi":610},{"r":"WAS","d":30,"lo":410,"m":490,"hi":570},{"r":"WAS","d":35,"lo":400,"m":490,"hi":560},{"r":"WAS","d":40,"lo":390,"m":470,"hi":550},{"r":"WAS","d":45,"lo":380,"m":460,"hi":540},
      {"r":"WAS","d":50,"lo":360,"m":450,"hi":530},{"r":"WAS","d":55,"lo":350,"m":440,"hi":520},{"r":"WAS","d":60,"lo":330,"m":410,"hi":490},{"r":"WAS","d":65,"lo":320,"m":400,"hi":480},{"r":"WAS","d":70,"lo":310,"m":390,"hi":470},{"r":"WAS","d":75,"lo":290,"m":370,"hi":450},{"r":"WAS","d":80,"lo":280,"m":360,"hi":440},{"r":"WAS","d":85,"lo":270,"m":350,"hi":430},{"r":"WAS","d":90,"lo":250,"m":330,"hi":410},{"r":"WAS","d":95,"lo":240,"m":320,"hi":400},
      {"r":"WAS","d":100,"lo":230,"m":300,"hi":380},{"r":"WAS","d":105,"lo":210,"m":290,"hi":370},{"r":"WAS","d":110,"lo":200,"m":270,"hi":350},{"r":"WAS","d":115,"lo":190,"m":260,"hi":340},{"r":"WAS","d":120,"lo":170,"m":250,"hi":320},{"r":"WAS","d":125,"lo":170,"m":240,"hi":310},{"r":"WAS","d":130,"lo":150,"m":225,"hi":300},{"r":"WAS","d":135,"lo":140,"m":215,"hi":290},{"r":"WAS","d":140,"lo":130,"m":205,"hi":280},{"r":"WAS","d":145,"lo":120,"m":190,"hi":260},
      {"r":"WAS","d":150,"lo":110,"m":180,"hi":250},{"r":"WAS","d":155,"lo":100,"m":170,"hi":240},{"r":"WAS","d":160,"lo":90,"m":165,"hi":230},{"r":"WAS","d":165,"lo":100,"m":160,"hi":230},{"r":"WAS","d":170,"lo":90,"m":165,"hi":240},{"r":"WAS","d":175,"lo":100,"m":160,"hi":220},{"r":"WAS","d":180,"lo":110,"m":170,"hi":240},{"r":"WAS","d":185,"lo":100,"m":175,"hi":250},{"r":"WAS","d":190,"lo":120,"m":180,"hi":240},{"r":"WAS","d":195,"lo":110,"m":185,"hi":260},
      {"r":"WAS","d":200,"lo":100,"m":180,"hi":250},{"r":"WAS","d":205,"lo":120,"m":190,"hi":260},{"r":"WAS","d":210,"lo":110,"m":195,"hi":270},{"r":"WAS","d":215,"lo":140,"m":210,"hi":290},{"r":"WAS","d":220,"lo":160,"m":230,"hi":310},{"r":"WAS","d":225,"lo":180,"m":250,"hi":320},{"r":"WAS","d":230,"lo":200,"m":270,"hi":340},{"r":"WAS","d":235,"lo":220,"m":290,"hi":360},{"r":"WAS","d":240,"lo":220,"m":300,"hi":370},{"r":"WAS","d":245,"lo":240,"m":310,"hi":380},
      {"r":"WAS","d":250,"lo":250,"m":320,"hi":400},{"r":"WAS","d":255,"lo":270,"m":340,"hi":410},{"r":"WAS","d":260,"lo":270,"m":350,"hi":430},{"r":"WAS","d":265,"lo":290,"m":370,"hi":440},{"r":"WAS","d":270,"lo":300,"m":380,"hi":460},{"r":"WAS","d":275,"lo":320,"m":400,"hi":470},{"r":"WAS","d":280,"lo":330,"m":400,"hi":480},{"r":"WAS","d":285,"lo":340,"m":410,"hi":490},{"r":"WAS","d":290,"lo":350,"m":430,"hi":510},{"r":"WAS","d":295,"lo":360,"m":440,"hi":530},
      {"r":"WAS","d":300,"lo":370,"m":450,"hi":540},{"r":"WAS","d":305,"lo":380,"m":460,"hi":550},{"r":"WAS","d":310,"lo":370,"m":455,"hi":540},{"r":"WAS","d":315,"lo":400,"m":480,"hi":570},{"r":"WAS","d":320,"lo":410,"m":490,"hi":580},{"r":"WAS","d":325,"lo":430,"m":510,"hi":600},{"r":"WAS","d":330,"lo":440,"m":520,"hi":610},{"r":"WAS","d":335,"lo":420,"m":510,"hi":600},{"r":"WAS","d":340,"lo":450,"m":540,"hi":630},{"r":"WAS","d":345,"lo":440,"m":520,"hi":620},
      {"r":"WAS","d":350,"lo":430,"m":530,"hi":620},{"r":"WAS","d":355,"lo":440,"m":530,"hi":630},{"r":"WAS","d":360,"lo":420,"m":520,"hi":610},{"r":"WAS","d":365,"lo":430,"m":530,"hi":620},{"r":"WAS","d":370,"lo":400,"m":510,"hi":600},{"r":"WAS","d":375,"lo":390,"m":500,"hi":590},{"r":"WAS","d":380,"lo":400,"m":500,"hi":600},{"r":"WAS","d":385,"lo":380,"m":490,"hi":580},{"r":"WAS","d":390,"lo":390,"m":500,"hi":590},{"r":"WAS","d":395,"lo":400,"m":490,"hi":570},{"r":"WAS","d":400,"lo":410,"m":480,"hi":560}
    ]
  },
  "transform": [
    {"lookup": "r", "from": {"data": {"name": "names"}, "key": "r", "fields": ["region"]}}
  ],
  "facet": {
    "field": "r",
    "type": "nominal",
    "sort": ["NT", "QLD", "NSW", "SA", "TAS", "VIC", "WAN", "WAS"],
    "header": {
      "title": "Day of the year",
      "titleOrient": "bottom",
      "titleFont": "Liberation Serif",
      "titleFontSize": 26,
      "titleFontWeight": "normal",
      "titleColor": "black",
      "titlePadding": 2,
      "labels": false
    }
  },
  "columns": 2,
  "spacing": {"row": 14, "column": 14},
  "spec": {
    "width": 507,
    "height": 322,
    "encoding": {
      "x": {
        "field": "d",
        "type": "quantitative",
        "title": null,
        "scale": {"domain": [-18, 420], "nice": false, "zero": false},
        "axis": {"values": [0, 100, 200, 300, 400]}
      },
      "color": {
        "field": "r",
        "type": "nominal",
        "legend": null,
        "scale": {
          "domain": ["NT", "QLD", "NSW", "SA", "TAS", "VIC", "WAN", "WAS"],
          "range": ["#d95f02", "#e6ab02", "#7570b3", "#1b9e77", "#66a61e", "#e7298a", "#a6761d", "#666666"]
        }
      }
    },
    "layer": [
      {
        "mark": {"type": "area", "opacity": 0.35},
        "encoding": {
          "y": {
            "field": "lo",
            "type": "quantitative",
            "title": null,
            "scale": {"domain": [-31, 795], "nice": false, "zero": false},
            "axis": {"values": [0, 150, 300, 450, 600], "domain": false}
          },
          "y2": {"field": "hi"}
        }
      },
      {
        "mark": {"type": "line", "strokeWidth": 0.8},
        "encoding": {"y": {"field": "lo", "type": "quantitative", "title": null}}
      },
      {
        "mark": {"type": "line", "strokeWidth": 0.8},
        "encoding": {"y": {"field": "hi", "type": "quantitative", "title": null}}
      },
      {
        "mark": {"type": "line", "strokeWidth": 3.5},
        "encoding": {"y": {"field": "m", "type": "quantitative", "title": null}}
      },
      {
        "transform": [{"filter": "datum.d == 0"}],
        "mark": {"type": "rect", "fill": "white", "stroke": "black", "strokeWidth": 2},
        "encoding": {
          "x": {"datum": -18},
          "x2": {"datum": 420},
          "y": {"datum": 685},
          "y2": {"datum": 795},
          "color": null
        }
      },
      {
        "transform": [{"filter": "datum.d == 0"}],
        "mark": {"type": "text", "font": "Liberation Serif", "fontSize": 20, "fill": "black", "baseline": "middle", "align": "center"},
        "encoding": {
          "x": {"datum": 201},
          "y": {"datum": 740},
          "text": {"field": "region"},
          "color": null
        }
      },
      {
        "transform": [{"filter": "datum.d == 0 && indexof(['NT','NSW','TAS','WAN'], datum.r) >= 0"}],
        "mark": {"type": "rule", "color": "black", "strokeWidth": 2},
        "encoding": {
          "x": {"datum": -18},
          "y": {"datum": -31},
          "y2": {"datum": 685},
          "color": null
        }
      }
    ]
  }
}
